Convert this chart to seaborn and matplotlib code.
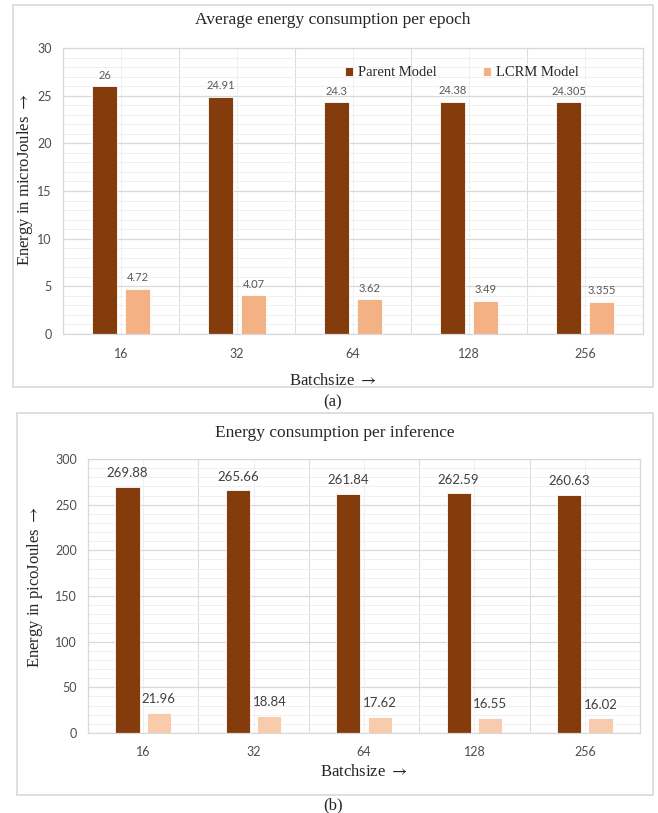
import pandas as pd
import matplotlib.pyplot as plt
import seaborn as sns
from matplotlib.patches import Rectangle
from matplotlib.ticker import MultipleLocator

# ---------------- Data ----------------
batch_sizes = ["16", "32", "64", "128", "256"]
models = ["Parent Model", "LCRM Model"]

epoch_parent = [26, 24.91, 24.3, 24.38, 24.305]
epoch_lcrm = [4.72, 4.07, 3.62, 3.49, 3.355]

infer_parent = [269.88, 265.66, 261.84, 262.59, 260.63]
infer_lcrm = [21.96, 18.84, 17.62, 16.55, 16.02]


def long_table(parent, lcrm):
    return pd.DataFrame({
        "batch": batch_sizes * 2,
        "model": [models[0]] * 5 + [models[1]] * 5,
        "energy": list(parent) + list(lcrm),
    })


df_epoch = long_table(epoch_parent, epoch_lcrm)
df_infer = long_table(infer_parent, infer_lcrm)

# ---------------- Style ----------------
sns.set_style("white")
plt.rcParams["font.family"] = ["Liberation Serif", "DejaVu Serif"]
plt.rcParams["mathtext.fontset"] = "stix"

W, H = 658, 813
fig = plt.figure(figsize=(W / 100, H / 100), dpi=100)


def fx(px):
    return px / W


def fy(py):
    return 1 - py / H


# panel frames
for x0, y0, x1, y1 in [(13, 5, 653, 387), (17, 413, 653, 795)]:
    fig.patches.append(Rectangle((fx(x0), fy(y1)), fx(x1) - fx(x0), fy(y0) - fy(y1),
                                 transform=fig.transFigure, fill=False,
                                 edgecolor="#D9D9D9", linewidth=1.2))


def style_axes(ax, ymax, major, minor, label_size):
    ax.set_xlim(-0.5, 4.5)
    ax.set_ylim(0, ymax)
    ax.yaxis.set_major_locator(MultipleLocator(major))
    ax.yaxis.set_minor_locator(MultipleLocator(minor))
    ax.set_xticks(range(5))
    ax.grid(False)
    ax.grid(axis="y", which="major", color="#D9D9D9", linewidth=0.9)
    ax.grid(axis="y", which="minor", color="#F0F0F0", linewidth=0.7)
    # vertical lines: boundaries stronger, centers lighter
    for i in range(6):
        ax.axvline(i - 0.5, color="#DDDDDD", linewidth=0.8, zorder=0)
    for i in range(5):
        ax.axvline(i, color="#F0F0F0", linewidth=0.7, zorder=0)
    ax.set_axisbelow(True)
    for s in ax.spines.values():
        s.set_color("#D9D9D9")
        s.set_linewidth(0.9)
    ax.tick_params(which="both", length=0)
    ax.tick_params(axis="y", pad=8)
    for lab in ax.get_xticklabels() + ax.get_yticklabels():
        lab.set_fontfamily("Lato")
        lab.set_fontsize(label_size)
        lab.set_color("#4D4D4D")
    ax.set_xlabel("")
    ax.set_ylabel("")


ARROW = r" $\rightarrow$"

# ---------------- (a) Average energy per epoch ----------------
ax1 = fig.add_axes([fx(63), fy(334), fx(643) - fx(63), fy(48) - fy(334)])
sns.barplot(data=df_epoch, x="batch", y="energy", hue="model",
            palette=["#843C0C", "#F4B183"], saturation=1, width=0.57, gap=0.23,
            edgecolor="white", linewidth=0.6, ax=ax1)
style_axes(ax1, 30, 5, 1, 9)
ax1.tick_params(axis="x", pad=10)
for cont in ax1.containers:
    ax1.bar_label(cont, fmt="%g", padding=4, fontsize=8,
                  color="#595959", fontfamily="Lato")
ax1.legend(ncol=2, frameon=False, fontsize=10.5, loc="center",
           bbox_to_anchor=(fx(462), fy(73)), bbox_transform=fig.transFigure,
           handlelength=0.55, handleheight=0.55, handletextpad=0.3,
           columnspacing=3.2)

fig.text(fx(333), fy(20), "Average energy consumption per epoch",
         ha="center", va="center", fontsize=12.5)
fig.text(fx(25), fy(180), "Energy in microJoules" + ARROW, rotation=90,
         ha="center", va="center", fontsize=12)
fig.text(fx(333), fy(381), "Batchsize" + ARROW, ha="center", va="center", fontsize=12)
fig.text(fx(333), fy(402), "(a)", ha="center", va="center", fontsize=12)

# ---------------- (b) Energy per inference ----------------
ax2 = fig.add_axes([fx(88), fy(733), fx(640) - fx(88), fy(459) - fy(733)])
sns.barplot(data=df_infer, x="batch", y="energy", hue="model",
            palette=["#843C0C", "#F8CBAD"], saturation=1, width=0.57, gap=0.23,
            edgecolor="white", linewidth=0.6, legend=False, ax=ax2)
style_axes(ax2, 300, 50, 10, 9)
ax2.tick_params(axis="x", pad=9)
for cont in ax2.containers:
    ax2.bar_label(cont, fmt="%g", padding=5.5, fontsize=9.5,
                  color="#404040", fontfamily="Lato")

fig.text(fx(335), fy(433), "Energy consumption per inference",
         ha="center", va="center", fontsize=12.5)
fig.text(fx(35), fy(587), "Energy in picoJoules" + ARROW, rotation=90,
         ha="center", va="center", fontsize=12)
fig.text(fx(364), fy(772), "Batchsize" + ARROW, ha="center", va="center", fontsize=12)
fig.text(fx(333), fy(805), "(b)", ha="center", va="center", fontsize=12)

fig.savefig("out.png", dpi=100)
